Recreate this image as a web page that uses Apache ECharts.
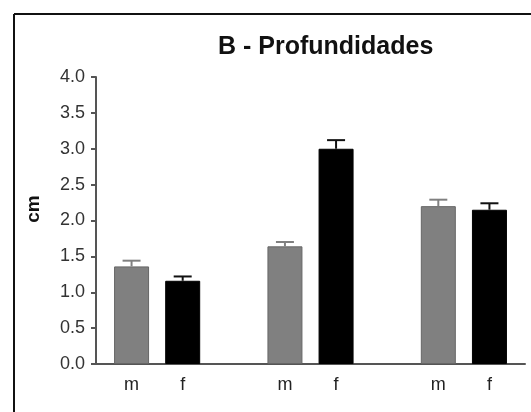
<!DOCTYPE html>
<html>
<head>
<meta charset="utf-8">
<script src="https://cdn.jsdelivr.net/npm/echarts@6/dist/echarts.min.js"></script>
<style>
html,body{margin:0;padding:0;background:#fff;}
#chart{width:531px;height:412px;}
</style>
</head>
<body>
<div id="chart"></div>
<script>
// ---- data ----
var sexLabels = ['m', 'f'];
var groupCount = 3;
var maleMeans = [1.36, 1.64, 2.20];
var femaleMeans = [1.16, 3.00, 2.15];
var maleErr = [0.08, 0.06, 0.09];
var femaleErr = [0.06, 0.12, 0.09];
var yTicks = [0, 0.5, 1.0, 1.5, 2.0, 2.5, 3.0, 3.5, 4.0];
var titleText = 'B - Profundidades';
var yName = 'cm';

// ---- build category slots: m, f, gap, m, f, gap, m, f ----
var categories = [];
var maleData = [], femaleData = [], maleErrData = [], femaleErrData = [];
for (var g = 0; g < groupCount; g++) {
  var mi = categories.length;
  categories.push(sexLabels[0]);
  var fi = categories.length;
  categories.push(sexLabels[1]);
  maleData[mi] = maleMeans[g]; maleData[fi] = '-';
  femaleData[mi] = '-'; femaleData[fi] = femaleMeans[g];
  maleErrData.push([mi, maleMeans[g], maleErr[g]]);
  femaleErrData.push([fi, femaleMeans[g], femaleErr[g]]);
  if (g < groupCount - 1) {
    var gi = categories.length;
    categories.push('');
    maleData[gi] = '-'; femaleData[gi] = '-';
  }
}

var FONT = '"Liberation Sans", Arial, sans-serif';
var GRAY = '#808080';
var BLACK = '#000000';

function errRender(params, api) {
  var x = api.value(0), m = api.value(1), e = api.value(2);
  var base = api.coord([x, m]);
  var top = api.coord([x, m + e]);
  var half = 9;
  var color = api.visual('color');
  return {
    type: 'group',
    children: [
      {type: 'line', shape: {x1: base[0], y1: base[1], x2: top[0], y2: top[1]},
       style: {stroke: color, lineWidth: 2}},
      {type: 'line', shape: {x1: top[0] - half, y1: top[1], x2: top[0] + half, y2: top[1]},
       style: {stroke: color, lineWidth: 2}}
    ]
  };
}

var chart = echarts.init(document.getElementById('chart'), null, {renderer: 'canvas'});
chart.setOption({
  animation: false,
  backgroundColor: '#ffffff',
  title: {
    text: titleText,
    left: 218,
    top: 35,
    padding: 0,
    textStyle: {fontFamily: FONT, fontSize: 25, fontWeight: 'bold', color: '#111'}
  },
  graphic: [
    {type: 'line', shape: {x1: 14, y1: 14, x2: 531, y2: 14}, style: {stroke: '#111', lineWidth: 2}},
    {type: 'line', shape: {x1: 14, y1: 14, x2: 14, y2: 412}, style: {stroke: '#111', lineWidth: 2}},
    {type: 'text', x: 34, y: 209, rotation: Math.PI / 2,
     style: {text: yName, font: 'bold 19px ' + FONT, fill: '#111', textAlign: 'center', textVerticalAlign: 'middle'}}
  ],
  grid: [
    {left: 106, right: 16, top: 77, bottom: 48},
    {left: 96, right: 6, top: 77, bottom: 48}
  ],
  xAxis: [
    {
      type: 'category', gridIndex: 0, data: categories,
      axisLine: {show: false}, axisTick: {show: false},
      axisLabel: {margin: 12, fontFamily: FONT, fontSize: 18, color: '#222', interval: 0}
    },
    {
      type: 'category', gridIndex: 1, data: [''],
      axisLine: {show: true, lineStyle: {color: '#555', width: 2}},
      axisTick: {show: false}, axisLabel: {show: false}
    }
  ],
  yAxis: [
    {
      type: 'value', gridIndex: 0, min: 0, max: 4, interval: 0.5, offset: 10,
      axisLine: {show: true, lineStyle: {color: '#555', width: 2}},
      axisTick: {show: true, length: 5, lineStyle: {color: '#555', width: 2}},
      splitLine: {show: false},
      axisLabel: {margin: 11, fontFamily: FONT, fontSize: 18, color: '#333',
        formatter: function (v) { return v.toFixed(1); }}
    },
    {type: 'value', gridIndex: 1, min: 0, max: 4, show: false}
  ],
  series: [
    {type: 'bar', name: 'm', xAxisIndex: 0, yAxisIndex: 0, data: maleData, barWidth: 35, barGap: '-100%',
     itemStyle: {color: GRAY, borderColor: '#666', borderWidth: 1}},
    {type: 'bar', name: 'f', xAxisIndex: 0, yAxisIndex: 0, data: femaleData, barWidth: 35, barGap: '-100%',
     itemStyle: {color: BLACK, borderColor: '#000', borderWidth: 1}},
    {type: 'custom', name: 'm err', xAxisIndex: 0, yAxisIndex: 0, data: maleErrData,
     encode: {x: 0, y: 1}, renderItem: errRender, itemStyle: {color: GRAY}, z: 3},
    {type: 'custom', name: 'f err', xAxisIndex: 0, yAxisIndex: 0, data: femaleErrData,
     encode: {x: 0, y: 1}, renderItem: errRender, itemStyle: {color: '#111'}, z: 3}
  ]
});
</script>
</body>
</html>
